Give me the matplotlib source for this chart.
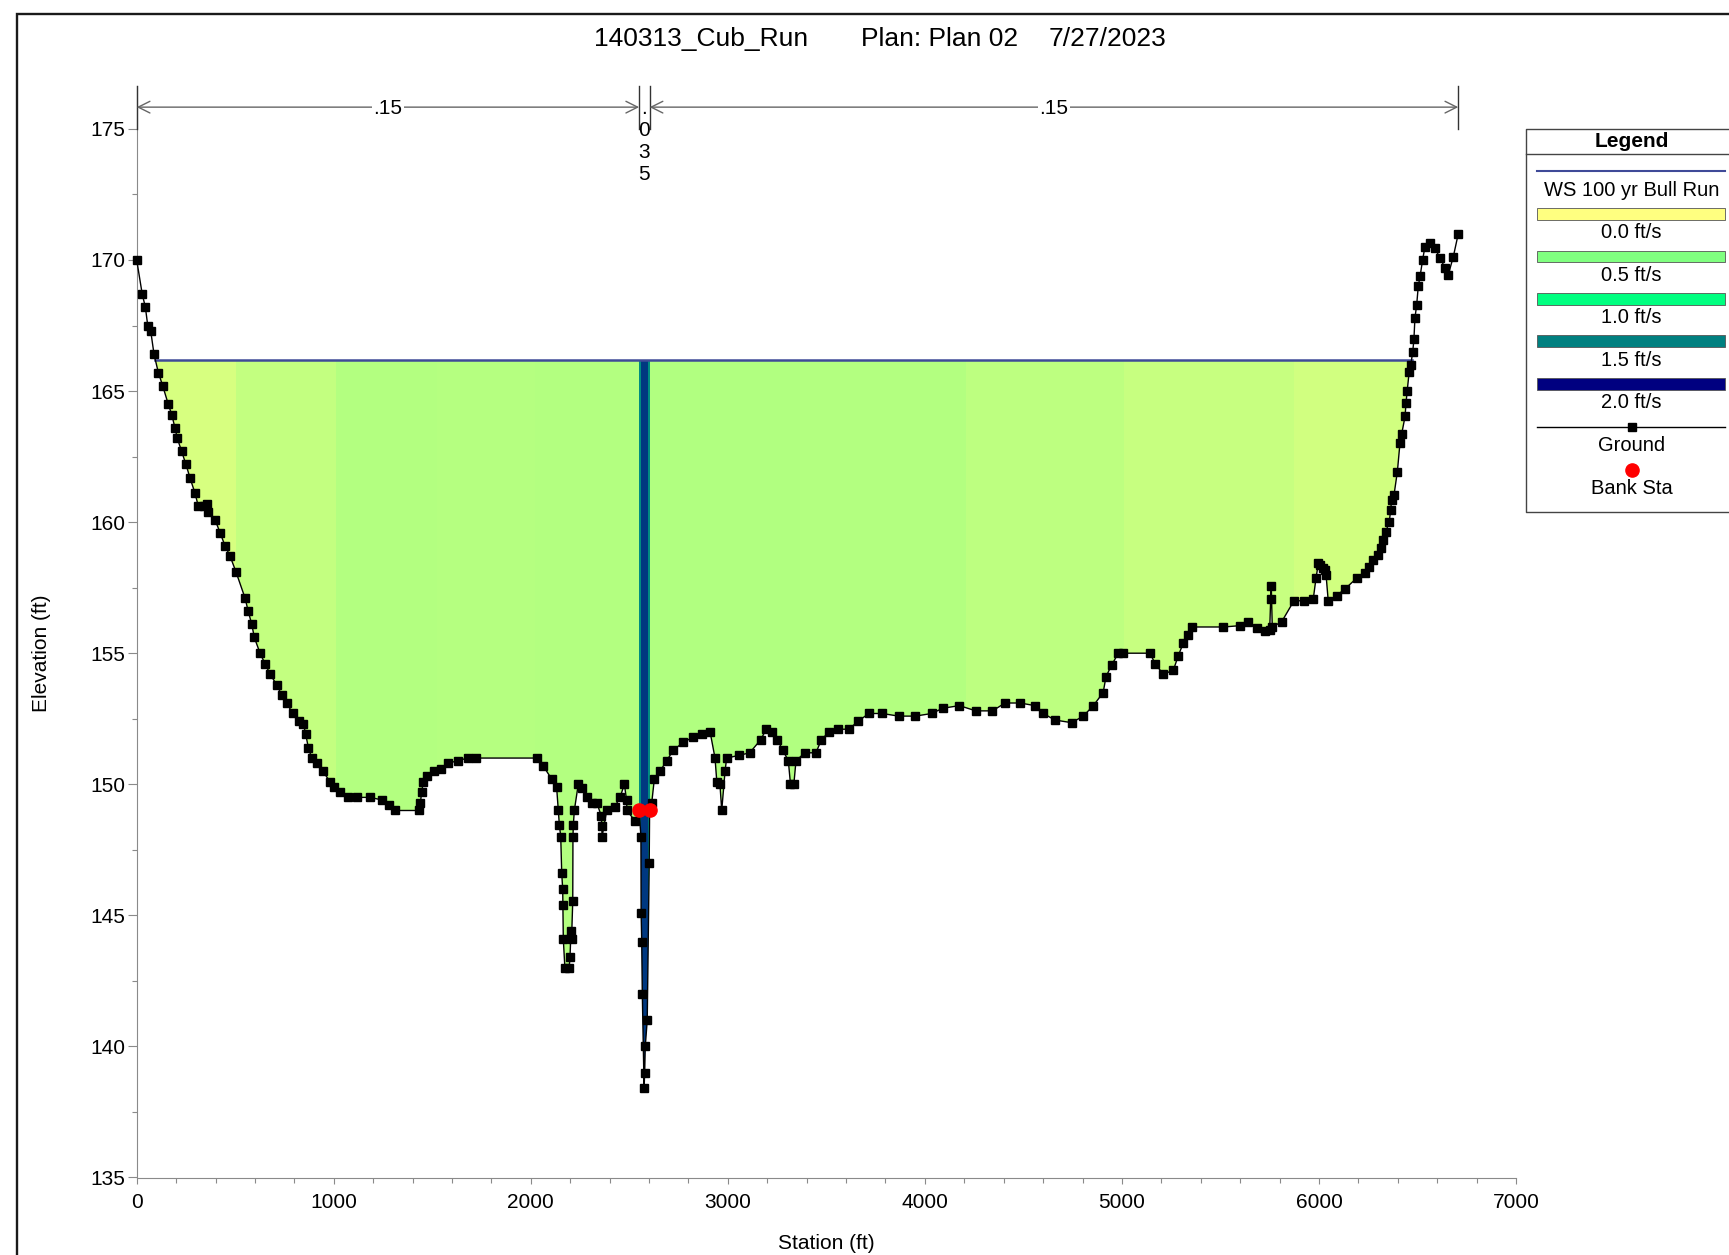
import numpy as np
import matplotlib
matplotlib.use('Agg')
import matplotlib.pyplot as plt
from matplotlib.colors import LinearSegmentedColormap
from matplotlib.patches import Rectangle

plt.rcParams['font.family'] = ['Liberation Sans', 'DejaVu Sans']

# ---------------- data ----------------
title_parts = ['140313_Cub_Run', 'Plan: Plan 02', '7/27/2023']
x_label = 'Station (ft)'
y_label = 'Elevation (ft)'

ground_sta = [0, 28, 44, 56, 71, 88, 110, 132, 160, 178, 194, 206, 228, 250, 270, 296, 313, 340, 355, 364,
              397, 423, 448, 474, 504, 550, 566, 584, 597, 626, 651, 677, 710, 736, 761, 792, 825, 846, 858, 871,
              888, 913, 944, 981, 1000, 1032, 1070, 1117, 1185, 1245, 1280, 1310, 1432, 1440, 1446, 1455, 1475,
              1510, 1545, 1580, 1630, 1680, 1720, 2030, 2063, 2106, 2131, 2140, 2145, 2152, 2157, 2162, 2163,
              2165, 2173, 2195, 2199, 2204, 2207, 2213, 2214, 2216, 2221, 2241, 2258, 2284, 2309, 2334, 2358,
              2360, 2362, 2385, 2427, 2453, 2475, 2486, 2488, 2529, 2550, 2559, 2560, 2563, 2566, 2575, 2578,
              2581, 2591, 2601, 2603, 2614, 2627, 2656, 2690, 2723, 2774, 2825, 2867, 2910, 2935, 2944, 2960,
              2969, 2986, 2994, 3055, 3111, 3167, 3195, 3223, 3251, 3279, 3307, 3318, 3335, 3346, 3391, 3447,
              3475, 3514, 3559, 3615, 3660, 3716, 3783, 3867, 3951, 4035, 4091, 4175, 4259, 4343, 4407, 4483,
              4559, 4601, 4660, 4745, 4804, 4855, 4905, 4919, 4948, 4982, 5007, 5143, 5168, 5210, 5261, 5286,
              5312, 5337, 5354, 5515, 5599, 5641, 5684, 5726, 5750, 5755, 5758, 5763, 5811, 5873, 5924, 5971,
              5985, 5997, 6005, 6019, 6031, 6036, 6047, 6090, 6132, 6191, 6234, 6255, 6276, 6301, 6313, 6327,
              6340, 6357, 6364, 6369, 6381, 6398, 6411, 6420, 6437, 6442, 6448, 6458, 6466, 6476, 6482, 6487,
              6496, 6504, 6513, 6526, 6538, 6564, 6589, 6614, 6640, 6656, 6682, 6707]
ground_elev = [170.0, 168.7, 168.2, 167.5, 167.3, 166.4, 165.7, 165.2, 164.5, 164.1, 163.6, 163.2, 162.7, 162.2,
               161.7, 161.1, 160.6, 160.6, 160.7, 160.4, 160.1, 159.6, 159.1, 158.7, 158.1, 157.1, 156.6, 156.1,
               155.6, 155.0, 154.6, 154.2, 153.8, 153.4, 153.1, 152.7, 152.4, 152.3, 151.9, 151.4, 151.0, 150.8,
               150.5, 150.1, 149.9, 149.7, 149.5, 149.5, 149.5, 149.4, 149.2, 149.0, 149.0, 149.3, 149.7, 150.1,
               150.3, 150.5, 150.6, 150.8, 150.9, 151.0, 151.0, 151.0, 150.7, 150.2, 149.9, 149.0, 148.45, 148.0,
               146.6, 146.0, 145.4, 144.1, 143.0, 143.0, 143.4, 144.4, 144.1, 145.55, 148.0, 148.45, 149.0, 150.0,
               149.85, 149.5, 149.3, 149.3, 148.8, 148.4, 148.0, 149.0, 149.15, 149.5, 150.0, 149.4, 149.0, 148.6,
               149.0, 148.0, 145.1, 144.0, 142.0, 138.4, 139.0, 140.0, 141.0, 147.0, 149.0, 149.3, 150.2, 150.5,
               150.9, 151.3, 151.6, 151.8, 151.9, 152.0, 151.0, 150.1, 150.0, 149.0, 150.5, 151.0, 151.1, 151.2,
               151.7, 152.1, 152.0, 151.7, 151.3, 150.9, 150.0, 150.0, 150.9, 151.2, 151.2, 151.7, 152.0, 152.1,
               152.1, 152.4, 152.7, 152.7, 152.6, 152.6, 152.7, 152.9, 153.0, 152.8, 152.8, 153.1, 153.1, 153.0,
               152.7, 152.45, 152.35, 152.6, 153.0, 153.5, 154.1, 154.55, 155.0, 155.0, 155.0, 154.6, 154.2,
               154.35, 154.9, 155.4, 155.7, 156.0, 156.0, 156.05, 156.2, 155.95, 155.86, 155.9, 157.06, 157.57,
               156.0, 156.2, 157.0, 157.0, 157.06, 157.86, 158.43, 158.37, 158.24, 158.18, 157.99, 157.0, 157.2,
               157.45, 157.86, 158.05, 158.3, 158.56, 158.75, 159.0, 159.32, 159.64, 160.02, 160.47, 160.85,
               161.04, 161.93, 163.0, 163.37, 164.03, 164.56, 165.02, 165.74, 166.0, 166.5, 166.98, 167.78,
               168.29, 169.0, 169.37, 170.0, 170.51, 170.64, 170.45, 170.07, 169.7, 169.43, 170.13, 171.0]

bank_sta = [2550, 2603]
bank_elev = [149.0, 149.0]

ws_name = 'WS 100 yr Bull Run'
ws_elev = 166.2

# velocity slices (ft/s) of the flow distribution
slice_edges = [0, 506, 1012, 1524, 2022, 2550, 2558, 2595, 2603, 3366, 4209, 5011, 5874, 6707]
slice_vel = [0.16, 0.24, 0.30, 0.29, 0.30, 1.45, 1.78, 1.45, 0.31, 0.30, 0.26, 0.22, 0.18]

legend_vel = [0.0, 0.5, 1.0, 1.5, 2.0]
legend_colors = ['#FFFF80', '#80FF80', '#00FF80', '#008080', '#000080']

n_bounds = [0, 2550, 2603, 6707]
n_values = ['.15', '.035', '.15']

# ---------------- layout ----------------
W, H = 1729, 1255
fig = plt.figure(figsize=(W / 100, H / 100), dpi=100)


def fx(px):
    return px / W


def fy(py):
    return 1 - py / H


AX_L, AX_R, AX_T, AX_B = 136.7, 1516.0, 86.0, 1177.5
PX_PER_FT = 26.215
ax = fig.add_axes([fx(AX_L), fy(AX_B), fx(AX_R) - fx(AX_L), fy(AX_T) - fy(AX_B)])
ax.set_xlim(0, 7000)
ymin = 135
ymax = ymin + (AX_B - AX_T) / PX_PER_FT
ax.set_ylim(ymin, ymax)
ax.patch.set_alpha(0)

ws_color = '#3F4A98'
axis_gray = '#8a8a8a'

sta = np.array(ground_sta, float)
elev = np.array(ground_elev, float)

cmap = LinearSegmentedColormap.from_list(
    'vel', list(zip(np.array(legend_vel) / max(legend_vel), legend_colors)))

water = ax.fill_between(sta, elev, ws_elev, where=elev < ws_elev, interpolate=True,
                        facecolor='none', edgecolor='none')
wpath = water.get_paths()[0]
for a, b, v in zip(slice_edges[:-1], slice_edges[1:], slice_vel):
    r = Rectangle((a, ymin), b - a, ws_elev - ymin, facecolor=cmap(v / max(legend_vel)),
                  edgecolor='none', zorder=1)
    ax.add_patch(r)
    r.set_clip_path(wpath, ax.transData)

xs = wpath.vertices[:, 0]
ax.plot([xs.min(), xs.max()], [ws_elev, ws_elev], color=ws_color, lw=1.8, zorder=3)

ax.plot(sta, elev, color='black', lw=1.0, marker='s', ms=6, mfc='black', mec='black',
        zorder=4, clip_on=False)
ax.plot(bank_sta, bank_elev, 'o', color='#FF0000', ms=9.5, zorder=5, clip_on=False)

# n-value annotations
arrow_y = 175.0 + 0.83
for s in n_bounds:
    ax.plot([s, s], [175.0, ymax], color='#333333', lw=1.0, zorder=3, clip_on=False)
for a, b, lab in zip(n_bounds[:-1], n_bounds[1:], n_values):
    if b - a > 300:
        ax.annotate('', xy=(b, arrow_y), xytext=(a, arrow_y),
                    arrowprops=dict(arrowstyle='<->,head_length=0.7,head_width=0.35',
                                    color='#666666', lw=1.0, shrinkA=0, shrinkB=0,
                                    mutation_scale=12))
        ax.text((a + b) / 2, arrow_y - 0.07, lab, ha='center', va='center', fontsize=15,
                bbox=dict(facecolor='white', edgecolor='none', pad=1.0), zorder=6)
    else:
        for k, ch in enumerate(lab):
            ax.text((a + b) / 2, arrow_y - 0.06 - 0.835 * k, ch, ha='center', va='center',
                    fontsize=15, zorder=6)

# ticks & spines
ax.set_xticks(np.arange(0, 7001, 1000))
ax.set_xticks(np.arange(0, 7001, 200), minor=True)
ax.set_yticks(np.arange(135, 176, 5))
ax.set_yticks(np.arange(137.5, 175, 5), minor=True)
ax.tick_params(axis='both', which='both', colors=axis_gray, labelcolor='black', labelsize=15, width=0.8)
ax.tick_params(axis='x', which='major', length=4.5, pad=6.5)
ax.tick_params(axis='x', which='minor', length=3.8)
ax.tick_params(axis='y', which='major', length=6.5, pad=1.5)
ax.tick_params(axis='y', which='minor', length=3.6)
for side in ['top', 'right']:
    ax.spines[side].set_visible(False)
for side in ['left', 'bottom']:
    ax.spines[side].set_color(axis_gray)
    ax.spines[side].set_linewidth(0.8)

# ---------------- overlay (pixel coordinates) ----------------
ov = fig.add_axes([0, 0, 1, 1])
ov.set_xlim(0, W)
ov.set_ylim(H, 0)
ov.axis('off')
ov.patch.set_alpha(0)

# outer frame
ov.plot([17.3, 17.3, W + 10], [H + 10, 13.8, 13.8], color='#1a1a1a', lw=1.7, solid_joinstyle='miter')

# title
for txt, cx in zip(title_parts, [700.7, 940.0, 1108.0]):
    ov.text(cx, 39.0, txt, ha='center', va='center', fontsize=19)

# axis labels
ov.text((AX_L + AX_R) / 2, 1243.8, x_label, ha='center', va='center', fontsize=15)
ov.text(41.9, 652.8, y_label, ha='center', va='center', rotation=90, fontsize=15)

# legend
LX0, LX1 = 1526.0, W + 10
LT, LB = 129.0, 511.7
cx = 1631.7
ov.plot([LX1, LX0, LX0, LX1], [LT, LT, LB, LB], color='#444444', lw=1.0)
ov.plot([LX0, LX1], [154.4, 154.4], color='#444444', lw=1.0)
ov.text(cx, 141.5, 'Legend', ha='center', va='center', fontsize=15, fontweight='bold')
bx0, bx1 = 1537.3, 1725.0
ov.plot([bx0, bx1], [170.9, 170.9], color=ws_color, lw=1.5)
ov.text(cx, 190.0, ws_name, ha='center', va='center', fontsize=14.5)
for i, (v, c) in enumerate(zip(legend_vel, legend_colors)):
    mid = 213.9 + 42.45 * i
    ov.add_patch(Rectangle((bx0, mid - 5.8), bx1 - bx0, 11.6, facecolor=c, edgecolor='#555555', lw=0.6))
    ov.text(cx, mid + 19.0, f'{v:.1f} ft/s', ha='center', va='center', fontsize=14.5)
ov.plot([bx0, bx1], [426.7, 426.7], color='black', lw=1.0)
ov.plot([cx], [426.7], marker='s', ms=5.5, color='black')
ov.text(cx, 445.7, 'Ground', ha='center', va='center', fontsize=14.5)
ov.plot([cx], [469.7], marker='o', ms=9.5, color='#FF0000')
ov.text(cx, 488.7, 'Bank Sta', ha='center', va='center', fontsize=14.5)

fig.savefig('out.png', dpi=100, facecolor='white')
